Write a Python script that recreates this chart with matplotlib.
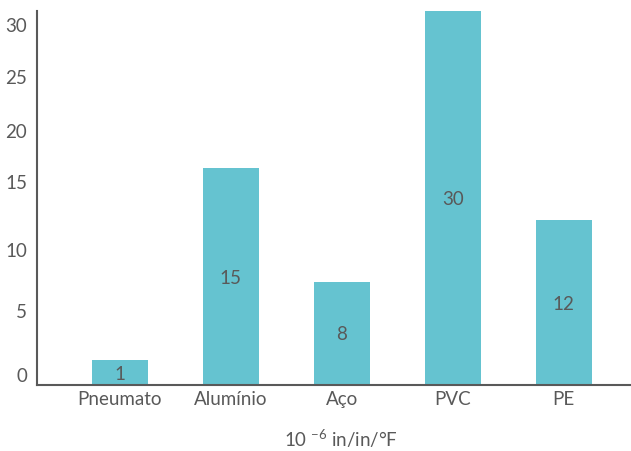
import matplotlib

matplotlib.use("Agg")
import matplotlib.pyplot as plt
import numpy as np

# categories and what the bars show
categories = ["Pneumato", "Alumínio", "Aço", "PVC", "PE"]
value_labels = ["1", "15", "8", "30", "12"]
# bar heights as drawn in the source (its axis is not linear with the labels)
bar_heights = [2.0, 17.4, 8.3, 30.0, 13.2]
# y tick labels and where they sit on the drawn axis
tick_labels = ["0", "5", "10", "15", "20", "25", "30"]
tick_pos = [0.8, 5.9, 10.8, 16.3, 20.4, 24.7, 28.9]

plt.rcParams["font.family"] = ["Lato", "DejaVu Sans"]
plt.rcParams["mathtext.default"] = "regular"

TEXT = "#595959"
BAR = "#65C3D0"
FS = 13.5

fig = plt.figure(figsize=(6.31, 4.51), dpi=100)
ax = fig.add_axes([0.0586, 0.1463, 0.9394, 0.8293])

x = np.arange(len(categories))
bars = ax.bar(x, bar_heights, width=0.505, color=BAR, zorder=2)
for rect, lab in zip(bars, value_labels):
    ax.text(
        rect.get_x() + rect.get_width() / 2,
        rect.get_height() / 2,
        lab,
        ha="center",
        va="center_baseline",
        fontsize=FS,
        color=TEXT,
    )

ax.set_xlim(-0.748, 4.595)
ax.set_ylim(0, 30)
ax.set_xticks(x)
ax.set_xticklabels(categories, fontsize=FS, color=TEXT)
ax.set_yticks(tick_pos)
ax.set_yticklabels(tick_labels, fontsize=FS, color=TEXT)
ax.tick_params(axis="both", length=0)
ax.tick_params(axis="y", pad=7)
ax.tick_params(axis="x", pad=4)

for side in ("top", "right"):
    ax.spines[side].set_visible(False)
for side in ("left", "bottom"):
    ax.spines[side].set_color(TEXT)
    ax.spines[side].set_linewidth(1.5)
ax.spines["bottom"].set_zorder(3)

ax.set_xlabel(r"10 $^{-6}$ in/in/°F", fontsize=FS, color=TEXT)
ax.xaxis.set_label_coords(0.512, -0.115)

fig.savefig("out.png", dpi=100)
plt.close(fig)
